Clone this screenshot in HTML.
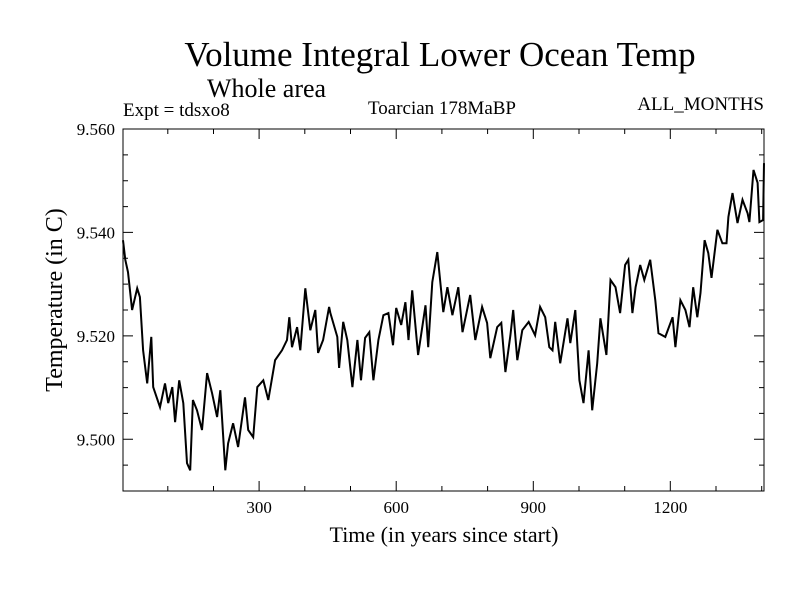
<!DOCTYPE html>
<html><head><meta charset="utf-8"><style>
body{margin:0;background:#fff;}
svg text{font-family:"Liberation Serif",serif;fill:#000;}
</style></head><body>
<svg id="chart" width="800" height="600">
<text x="440" y="66" font-size="35" text-anchor="middle">Volume Integral Lower Ocean Temp</text>
<text x="207" y="97" font-size="26">Whole area</text>
<text x="123" y="116" font-size="19">Expt = tdsxo8</text>
<text x="368" y="114" font-size="19">Toarcian 178MaBP</text>
<text x="764" y="110" font-size="19" text-anchor="end">ALL_MONTHS</text>
<text transform="translate(62,300) rotate(-90)" font-size="24" text-anchor="middle">Temperature (in C)</text>
<text x="444" y="542" font-size="22" text-anchor="middle">Time (in years since start)</text>
<g id="axes"></g>
<rect x="123" y="129" width="641" height="362" fill="none" stroke="#000" stroke-width="1"/>
</svg>
<script>
const years=[2,7,13,22,33,39,46,55,64,68,83,94,101,110,116,125,134,142,149,155,164,175,186,197,208,215,226,232,243,254,269,276,287,296,309,320,335,350,361,366,372,383,390,401,412,423,429,440,453,456,471,475,484,493,504,515,523,532,541,550,561,572,583,593,600,611,620,627,635,648,664,670,679,690,703,712,723,736,745,756,762,773,788,799,806,821,830,839,850,856,865,876,890,904,915,926,935,942,948,959,975,981,992,1001,1010,1021,1029,1040,1047,1060,1069,1080,1090,1101,1108,1117,1124,1134,1143,1156,1167,1174,1189,1205,1211,1222,1233,1242,1250,1259,1266,1275,1283,1290,1303,1314,1323,1327,1336,1347,1358,1369,1373,1382,1391,1395,1403,1405];
const temps=[9.5385,9.5347,9.5323,9.5250,9.5292,9.5275,9.5172,9.5108,9.5198,9.5101,9.5062,9.5108,9.5070,9.5101,9.5033,9.5114,9.5070,9.4954,9.4940,9.5076,9.5056,9.5018,9.5128,9.5089,9.5043,9.5095,9.4940,9.4992,9.5031,9.4985,9.5081,9.5018,9.5004,9.5101,9.5114,9.5076,9.5153,9.5172,9.5192,9.5236,9.5178,9.5217,9.5172,9.5292,9.5211,9.5250,9.5167,9.5192,9.5256,9.5244,9.5198,9.5138,9.5227,9.5192,9.5101,9.5192,9.5114,9.5196,9.5207,9.5114,9.5192,9.5240,9.5244,9.5182,9.5254,9.5221,9.5265,9.5192,9.5288,9.5163,9.5259,9.5178,9.5304,9.5362,9.5246,9.5294,9.5240,9.5294,9.5207,9.5254,9.5279,9.5192,9.5256,9.5225,9.5157,9.5217,9.5225,9.5130,9.5201,9.5250,9.5153,9.5211,9.5227,9.5201,9.5256,9.5236,9.5178,9.5172,9.5227,9.5147,9.5234,9.5186,9.5250,9.5114,9.5070,9.5172,9.5056,9.5147,9.5234,9.5163,9.5308,9.5294,9.5244,9.5337,9.5347,9.5244,9.5294,9.5337,9.5308,9.5347,9.5269,9.5205,9.5198,9.5236,9.5178,9.5269,9.5250,9.5217,9.5294,9.5236,9.5283,9.5385,9.5360,9.5312,9.5405,9.5379,9.5379,9.5430,9.5476,9.5418,9.5463,9.5437,9.5420,9.5521,9.5496,9.5420,9.5424,9.5534];
const xTicks=[300,600,900,1200];
const xTickLabels=["300","600","900","1200"];
const yTicks=[9.500,9.520,9.540,9.560];
const yTickLabels=["9.500","9.520","9.540","9.560"];
const X0=123,X1=764,Y0=129,Y1=491,XMIN=2,XMAX=1405,YMIN=9.490,YMAX=9.560;
const xs=v=>X0+(v-XMIN)/(XMAX-XMIN)*(X1-X0);
const ys=v=>Y1-(v-YMIN)/(YMAX-YMIN)*(Y1-Y0);
const NS="http://www.w3.org/2000/svg";
const g=document.getElementById('axes');
function mk(t,a){const e=document.createElementNS(NS,t);for(const k in a)e.setAttribute(k,a[k]);g.appendChild(e);return e;}
let d="";
for(let v=100;v<XMAX;v+=100){const x=xs(v).toFixed(1);const L=(v%300===0)?10:5;d+=`M${x} ${Y1}V${Y1-L}M${x} ${Y0}V${Y0+L}`;}
for(let i=1;i<14;i++){const v=YMIN+i*0.005;const y=ys(v).toFixed(1);const L=(Math.abs(((v-9.5)/0.02)-Math.round((v-9.5)/0.02))<1e-6)?10:5;d+=`M${X0} ${y}H${X0+L}M${X1} ${y}H${X1-L}`;}
const tk=mk('path',{d:d,stroke:'#000','stroke-width':1,fill:'none'});


xTicks.forEach((v,i)=>{const t=mk('text',{x:xs(v),y:513,'font-size':17,'text-anchor':'middle'});t.textContent=xTickLabels[i];

});
yTicks.forEach((v,i)=>{const t=mk('text',{x:115,y:ys(v)+6,'font-size':17,'text-anchor':'end'});t.textContent=yTickLabels[i];

});
const pts=years.map((y,i)=>xs(y).toFixed(1)+","+ys(temps[i]).toFixed(1)).join(" ");
const line=mk('polyline',{points:pts,fill:'none',stroke:'#000','stroke-width':2,'stroke-linejoin':'miter'});


</script>
</body></html>
